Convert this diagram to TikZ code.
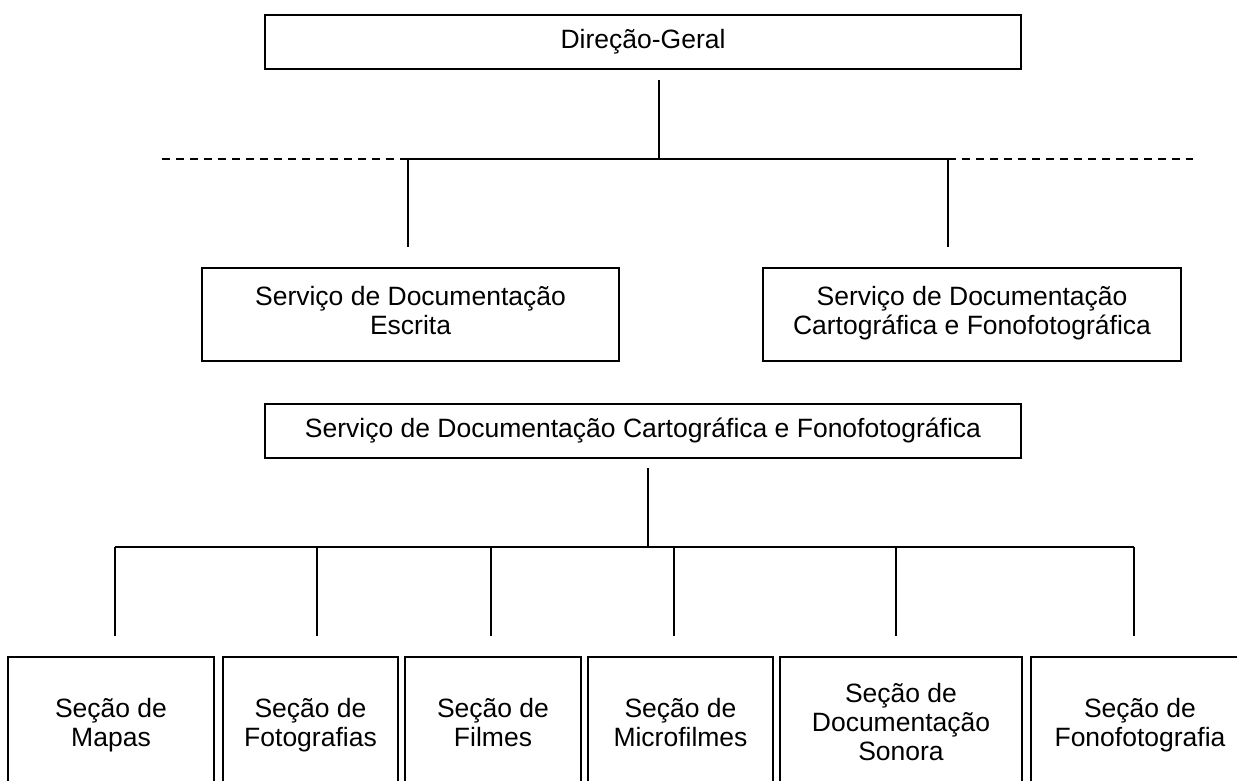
\documentclass[tikz,border=0pt]{standalone}
\usepackage{fontspec}
\setmainfont{Liberation Sans}
\begin{document}
\begin{tikzpicture}[x=1pt,y=-1pt,
  box/.style={draw, line width=1.4pt, inner sep=0pt, align=center, font=\fontsize{26.5}{29}\selectfont},
  wide/.style={box, minimum width=756pt, minimum height=54pt},
  mid/.style={box, minimum height=93pt},
  sect/.style={box, minimum height=138pt},
  conn/.style={line width=1.4pt},
  dashconn/.style={line width=1.4pt, dash pattern=on 7.5pt off 6.5pt}]
\useasboundingbox (0,0) rectangle (1237,780);
\fill[white] (0,0) rectangle (1237,780);
\clip (0,0) rectangle (1237,780);

% top level
\node[wide] (dg) at (643,42) {Direção-Geral};
\node[mid, minimum width=417pt] (esc) at (410.5,314.5) {\strut Serviço de Documentação\\\strut Escrita};
\node[mid, minimum width=418pt] (cart) at (972,314.5) {\strut Serviço de Documentação\\\strut Cartográfica e Fonofotográfica};

\coordinate (top) at (659,80);
\coordinate (jt) at (659,159);
\coordinate (jl) at (408,159);
\coordinate (jr) at (948,159);
\coordinate (dl) at (162,159);
\coordinate (dr) at (1193,159);
\coordinate (el) at (408,247);
\coordinate (er) at (948,247);

\draw[conn] (top) -- (jt);
\draw[conn] (jl) -- (jr);
\draw[dashconn] (dl) -- (jl);
\draw[dashconn] (jr) -- (dr);
\draw[conn] (jl) -- (el);
\draw[conn] (jr) -- (er);

% second chart
\node[wide] (scf) at (643,431) {Serviço de Documentação Cartográfica e Fonofotográfica};

\node[sect, minimum width=206pt] (b1) at (111,726) {\strut Seção de\\\strut Mapas};
\node[sect, minimum width=175pt] (b2) at (310.5,726) {\strut Seção de\\\strut Fotografias};
\node[sect, minimum width=176pt] (b3) at (493,726) {\strut Seção de\\\strut Filmes};
\node[sect, minimum width=185pt] (b4) at (680.5,726) {\strut Seção de\\\strut Microfilmes};
\node[sect, minimum width=242pt] (b5) at (901,726) {\strut Seção de\\\strut Documentação\\\strut Sonora};
\node[sect, minimum width=218pt] (b6) at (1140,726) {\strut Seção de\\\strut Fonofotografia};

\coordinate (s0) at (648,468);
\coordinate (s1) at (648,547);
\coordinate (h1) at (115,547);
\coordinate (h2) at (317,547);
\coordinate (h3) at (491,547);
\coordinate (h4) at (674,547);
\coordinate (h5) at (896,547);
\coordinate (h6) at (1134,547);

\draw[conn] (s0) -- (s1);
\draw[conn] (h1) -- (h6);
\foreach \i in {1,...,6} {
  \draw[conn] (h\i) -- ++(0,89);
}
\end{tikzpicture}
\end{document}
